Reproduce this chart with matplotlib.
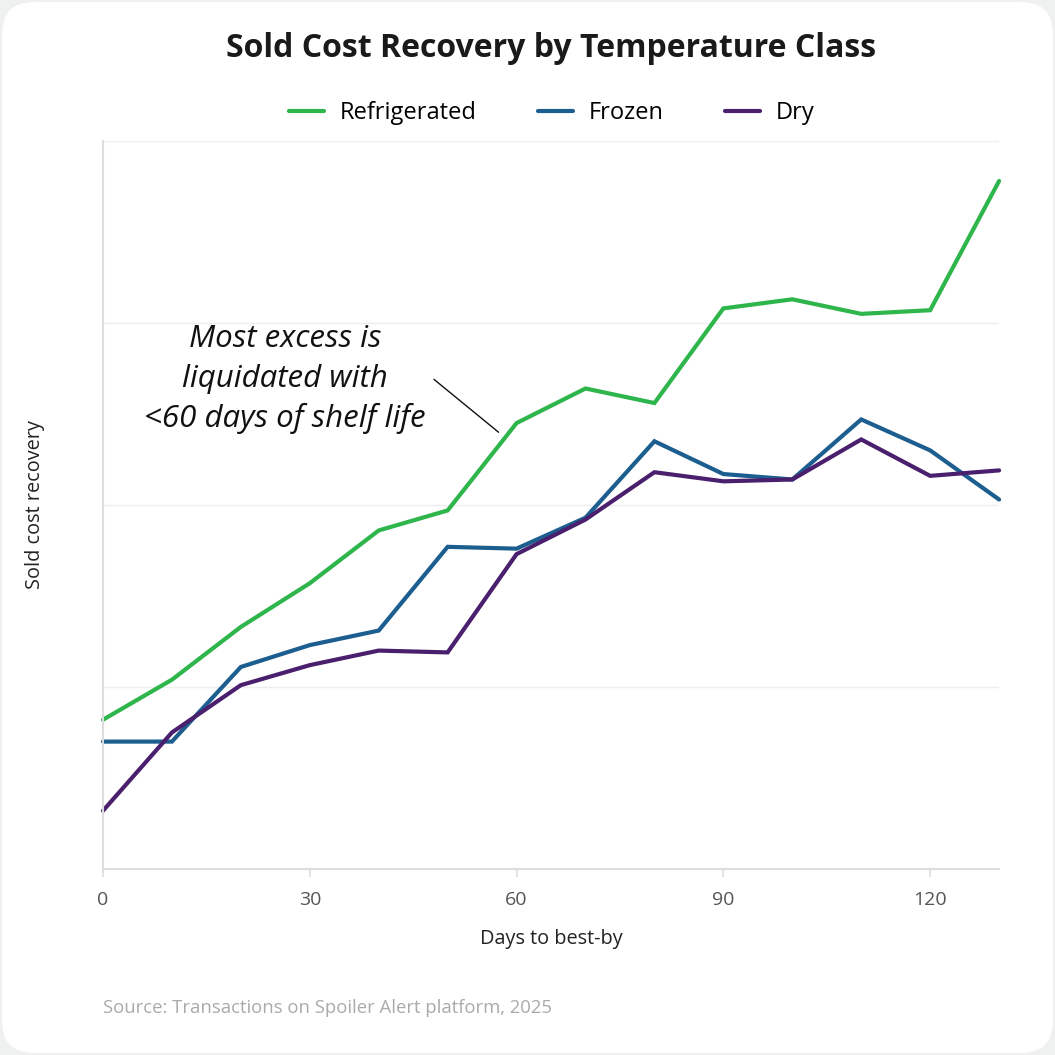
import numpy as np
import matplotlib.pyplot as plt
from matplotlib.patches import FancyBboxPatch

plt.rcParams['font.family'] = ['Open Sans', 'DejaVu Sans']

# Data (y in gridline units, no labels shown on the y axis)
days = [0, 10, 20, 30, 40, 50, 60, 70, 80, 90, 100, 110, 120, 130]
refrigerated = [0.82, 1.04, 1.33, 1.57, 1.86, 1.97, 2.45, 2.64, 2.56, 3.08, 3.13, 3.05, 3.07, 3.78]
frozen = [0.70, 0.70, 1.11, 1.23, 1.31, 1.77, 1.76, 1.93, 2.35, 2.17, 2.14, 2.47, 2.30, 2.03]
dry = [0.32, 0.75, 1.01, 1.12, 1.20, 1.19, 1.73, 1.92, 2.18, 2.13, 2.14, 2.36, 2.16, 2.19]

series = [('Refrigerated', refrigerated, '#2eb54b'),
          ('Frozen', frozen, '#1c5e8f'),
          ('Dry', dry, '#4a1f6e')]

fig = plt.figure(figsize=(10.55, 10.55), dpi=100)
fig.patch.set_facecolor('#eef1ef')
card = FancyBboxPatch((0.002, 0.002), 0.996, 0.996, boxstyle='round,pad=0,rounding_size=0.03',
                      transform=fig.transFigure, facecolor='white', edgecolor='none', zorder=-10)
fig.patches.append(card)

ax = fig.add_axes([0.0976, 0.1763, 0.8494, 0.6901])
ax.set_facecolor('none')

for name, vals, color in series:
    ax.plot(days, vals, color=color, lw=3.0, label=name, solid_capstyle='round',
            solid_joinstyle='miter', clip_on=False)

ax.set_xlim(0, 130)
ax.set_ylim(0, 4)
ax.set_xticks([0, 30, 60, 90, 120])
ax.set_yticks([1, 2, 3, 4])
ax.set_yticklabels([])
ax.tick_params(axis='y', length=0)
ax.tick_params(axis='x', length=6, width=1.2, color='#dddddd', labelcolor='#555555',
               labelsize=14, pad=10)
ax.grid(axis='y', color='#eeeeee', lw=1)
ax.set_axisbelow(True)
for s in ['top', 'right']:
    ax.spines[s].set_visible(False)
for s in ['left', 'bottom']:
    ax.spines[s].set_color('#dddddd')
    ax.spines[s].set_linewidth(1.5)

ax.set_xlabel('Days to best-by', fontsize=14.3, color='#222222', labelpad=14, fontweight='medium')
ax.set_ylabel('Sold cost recovery', fontsize=14.3, color='#222222', labelpad=38)

# Annotation
ax.text(26.4, 2.69, 'Most excess is\nliquidated with\n<60 days of shelf life', ha='center', va='center',
        fontsize=22.5, style='italic', color='#111111', linespacing=1.4)
ax.annotate('', xy=(57.7, 2.39), xytext=(47.7, 2.70),
            arrowprops=dict(arrowstyle='-', color='#111111', lw=1))

fig.text(0.522, 0.9545, 'Sold Cost Recovery by Temperature Class', fontsize=23, fontweight='bold',
         color='#1a1a1a', ha='center', va='center')
fig.legend(loc='center', bbox_to_anchor=(0.523, 0.893), ncol=3, frameon=False, fontsize=17,
           handlelength=1.5, columnspacing=2.6, handletextpad=0.65)

fig.text(0.0976, 0.045, 'Source: Transactions on Spoiler Alert platform, 2025', fontsize=13.3,
         color='#aaaaaa', ha='left', va='center')

fig.savefig('out.png', dpi=100)
